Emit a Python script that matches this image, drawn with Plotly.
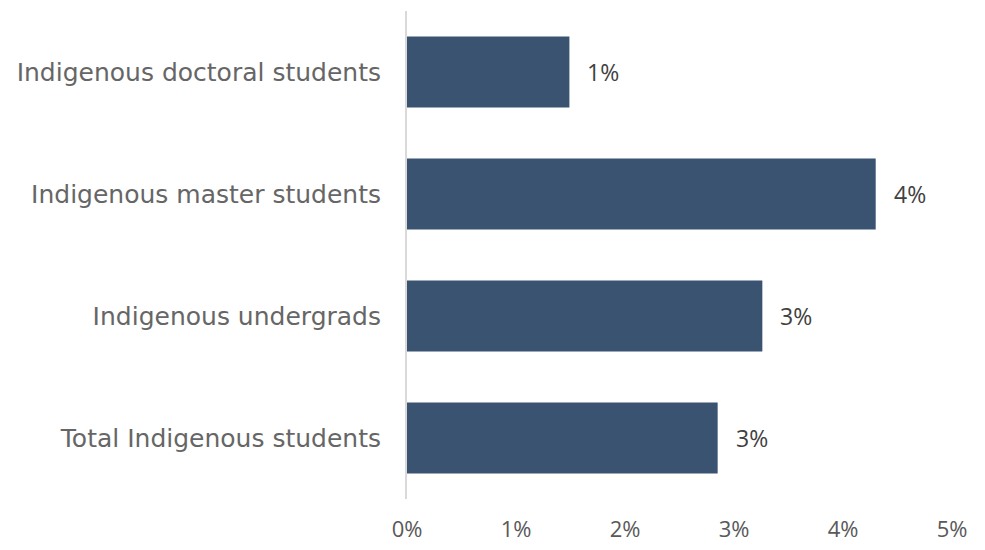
import plotly.graph_objects as go

# Share of students who are Indigenous, by level of study
categories = [
    "Total Indigenous students",
    "Indigenous undergrads",
    "Indigenous master students",
    "Indigenous doctoral students",
]
shares = [0.0285, 0.0326, 0.0430, 0.0149]
tick_values = [0, 0.01, 0.02, 0.03, 0.04, 0.05]
tick_labels = ["0%", "1%", "2%", "3%", "4%", "5%"]

bar_color = "#3A5371"
text_color = "#595959"
category_color = "#666666"
label_font = "DejaVu Sans, Open Sans, sans-serif"
number_font = "Open Sans, Liberation Sans, sans-serif"

fig = go.Figure(
    go.Bar(
        x=shares,
        y=categories,
        orientation="h",
        marker=dict(color=bar_color, line=dict(width=0)),
        hoverinfo="skip",
    )
)

# Value labels to the right of each bar
for cat, val in zip(categories, shares):
    fig.add_annotation(
        x=val, y=cat, text=f"{val:.0%}", showarrow=False,
        xanchor="left", xshift=16,
        font=dict(family=number_font, size=23, color="#404040"),
    )

fig.update_layout(
    width=985, height=550,
    margin=dict(l=407, r=33, t=11, b=51),
    paper_bgcolor="white", plot_bgcolor="white",
    bargap=0.42,
    showlegend=False,
    xaxis=dict(
        range=[0, 0.05],
        tickvals=tick_values, ticktext=tick_labels,
        showgrid=False, zeroline=False, showline=False,
        ticks="", ticklabelstandoff=15, automargin=False,
        tickfont=dict(family=number_font, size=22, color=text_color),
        fixedrange=True,
    ),
    yaxis=dict(
        categoryorder="array", categoryarray=categories,
        range=[-0.5, 3.5],
        showgrid=False, zeroline=False,
        showline=True, linecolor="#D9D9D9", linewidth=2,
        ticks="", ticklabelstandoff=19, automargin=False,
        tickfont=dict(family=label_font, size=25, color=category_color),
        fixedrange=True,
    ),
)

fig.write_html("out.html")
